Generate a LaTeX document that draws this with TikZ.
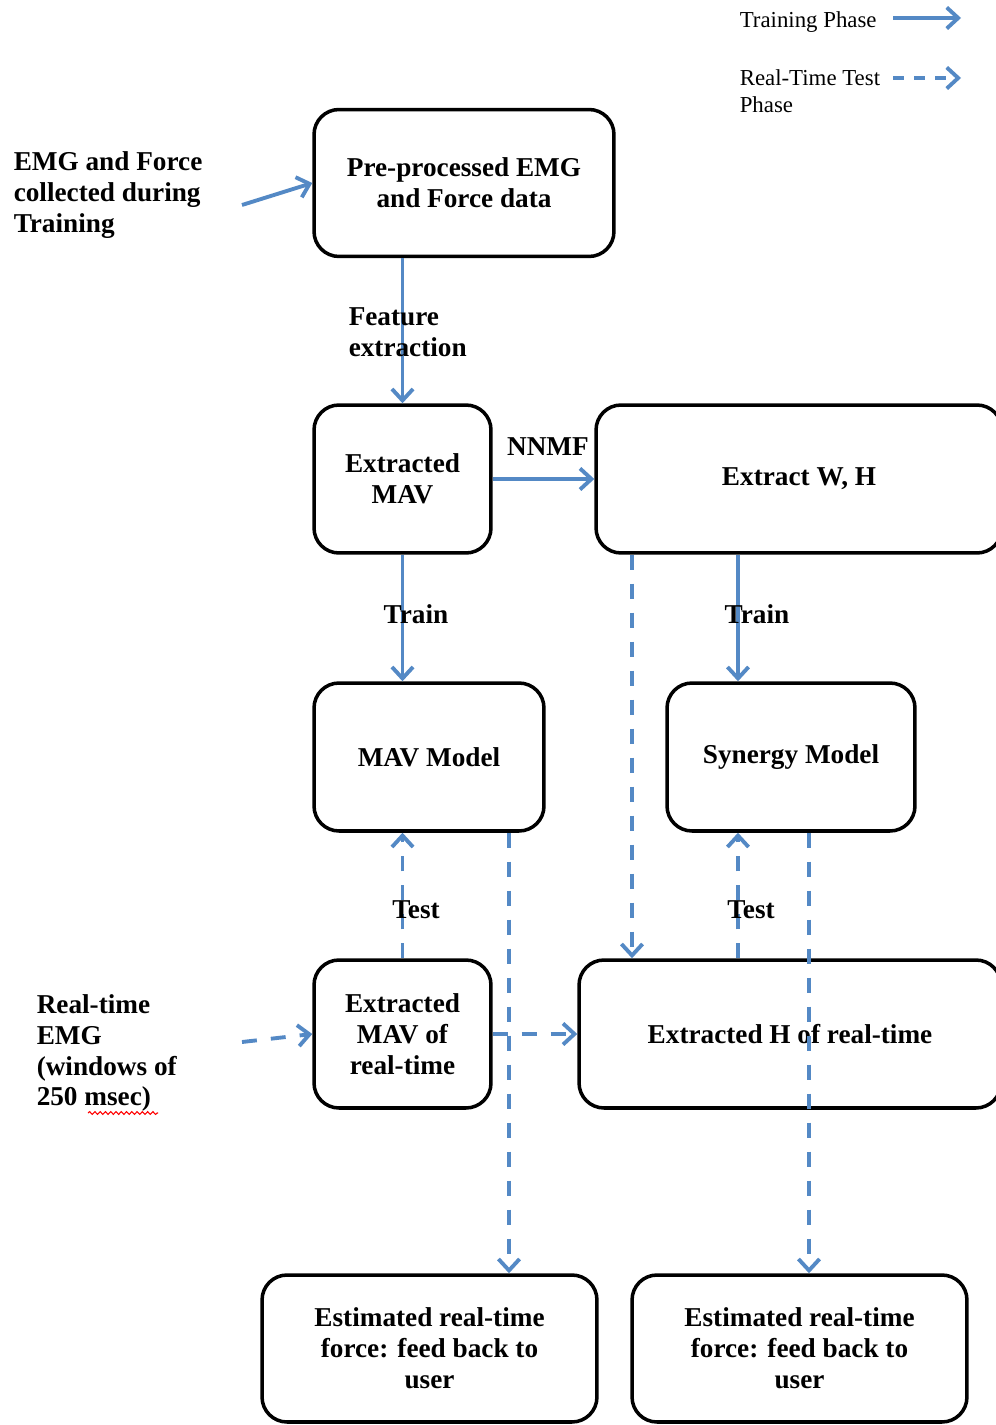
\documentclass[tikz,border=0pt]{standalone}
\usepackage{fontspec}
\setmainfont{Liberation Serif}
\usetikzlibrary{arrows.meta,decorations.pathmorphing}
\definecolor{arrowblue}{RGB}{84,137,197}

\begin{document}
\begin{tikzpicture}[x=0.02cm, y=-0.02cm, line width=2pt,
    box/.style={draw, rounded corners=0.5cm, align=center, inner sep=0pt,
        font=\bfseries\fontsize{15.5}{17.6}\selectfont},
    lbl/.style={align=left, inner sep=0pt, font=\bfseries\fontsize{15.5}{17.6}\selectfont},
    legendtext/.style={align=left, inner sep=0pt, font=\fontsize{13}{15.3}\selectfont},
    flow/.style={draw=arrowblue, line width=2.2pt, -{Straight Barb[length=6.5pt,width=12pt,line width=2.2pt]}},
    rtflow/.style={flow, dash pattern=on 8.5pt off 8pt}]
    \useasboundingbox (0,0) rectangle (996,1425);

    % legend
    \node[legendtext, anchor=west] (legtrain) at (738,22) {Training Phase};
    \node[legendtext, anchor=north west] (legtest) at (738,68) {Real-Time Test\\Phase};
    \coordinate (legtrainA) at (893,18);
    \coordinate (legtrainB) at (961,18);
    \coordinate (legtestA) at (893,78);
    \coordinate (legtestB) at (961,78);
    \draw[flow] (legtrainA) -- (legtrainB);
    \draw[rtflow, dash pattern=on 6pt off 6pt] (legtestA) -- (legtestB);

    % inputs
    \node[lbl, anchor=west] (trainin) at (12,195) {EMG and Force\\collected during\\Training};
    \node[lbl, anchor=west] (rtin) at (35,1053) {Real-time\\EMG\\(windows of\\250 msec)};
    \coordinate (trainsrc) at (242,205);
    \coordinate (rtsrc) at (242,1042);
    \draw[red, line width=0.6pt, decorate, decoration={snake, amplitude=0.8pt, segment length=3pt}]
        (88,1113) -- (158,1113);

    % boxes
    \node[box, minimum width=6cm, minimum height=2.94cm] (pre) at (464,183) {Pre-processed EMG\\and Force data};
    \node[box, minimum width=3.54cm, minimum height=2.96cm] (mav) at (402.5,479) {Extracted\\MAV};
    \node[box, minimum width=8.12cm, minimum height=2.96cm] (wh) at (799,479) {Extract W, H};
    \node[box, minimum width=4.6cm, minimum height=2.96cm] (mavmodel) at (429,757) {MAV Model};
    \node[box, minimum width=4.96cm, minimum height=2.96cm] (synmodel) at (791,757) {Synergy Model};
    \node[box, minimum width=3.54cm, minimum height=2.96cm] (mavrt) at (402.5,1034) {Extracted\\MAV of\\real-time};
    \node[box, minimum width=8.44cm, minimum height=2.96cm] (hrt) at (790,1034) {Extracted H of real-time};
    \node[box, minimum width=6.7cm, minimum height=2.94cm] (estL) at (429.5,1348.5) {Estimated real-time\\force: feed back to\\user};
    \node[box, minimum width=6.7cm, minimum height=2.94cm] (estR) at (799.5,1348.5) {Estimated real-time\\force: feed back to\\user};

    % columns of the vertical connectors
    \coordinate (colR) at (738,0);
    \coordinate (colH) at (632,0);
    \coordinate (colL) at (509,0);
    \coordinate (colS) at (809,0);

    % training phase
    \draw[flow] (trainsrc) -- (pre.west);
    \draw[flow] (pre.south -| mav.north) -- (mav.north);
    \draw[flow] (mav.east) -- (wh.west);
    \draw[flow] (mav.south) -- (mavmodel.north -| mav.south);
    \draw[flow] (wh.south -| colR) -- (synmodel.north -| colR);

    % real-time test phase
    \draw[rtflow] (rtsrc) -- (mavrt.west);
    \draw[rtflow] (mavrt.east) -- (hrt.west);
    \draw[rtflow] (mavrt.north) -- (mavmodel.south -| mavrt.north);
    \draw[rtflow] (hrt.north -| colR) -- (synmodel.south -| colR);
    \draw[rtflow] (wh.south -| colH) -- (hrt.north -| colH);
    \draw[rtflow] (mavmodel.south -| colL) -- (estL.north -| colL);
    \draw[rtflow] (synmodel.south -| colS) -- (estR.north -| colS);

    % labels
    \node[lbl, anchor=west] (featlbl) at (347,332) {Feature\\extraction};
    \node[lbl] (nnmflbl) at (548,447) {NNMF};
    \node[lbl] (trainL) at (416,614) {Train};
    \node[lbl] (trainR) at (757,614) {Train};
    \node[lbl] (testL) at (416,910) {Test};
    \node[lbl] (testR) at (751,910) {Test};
\end{tikzpicture}
\end{document}
